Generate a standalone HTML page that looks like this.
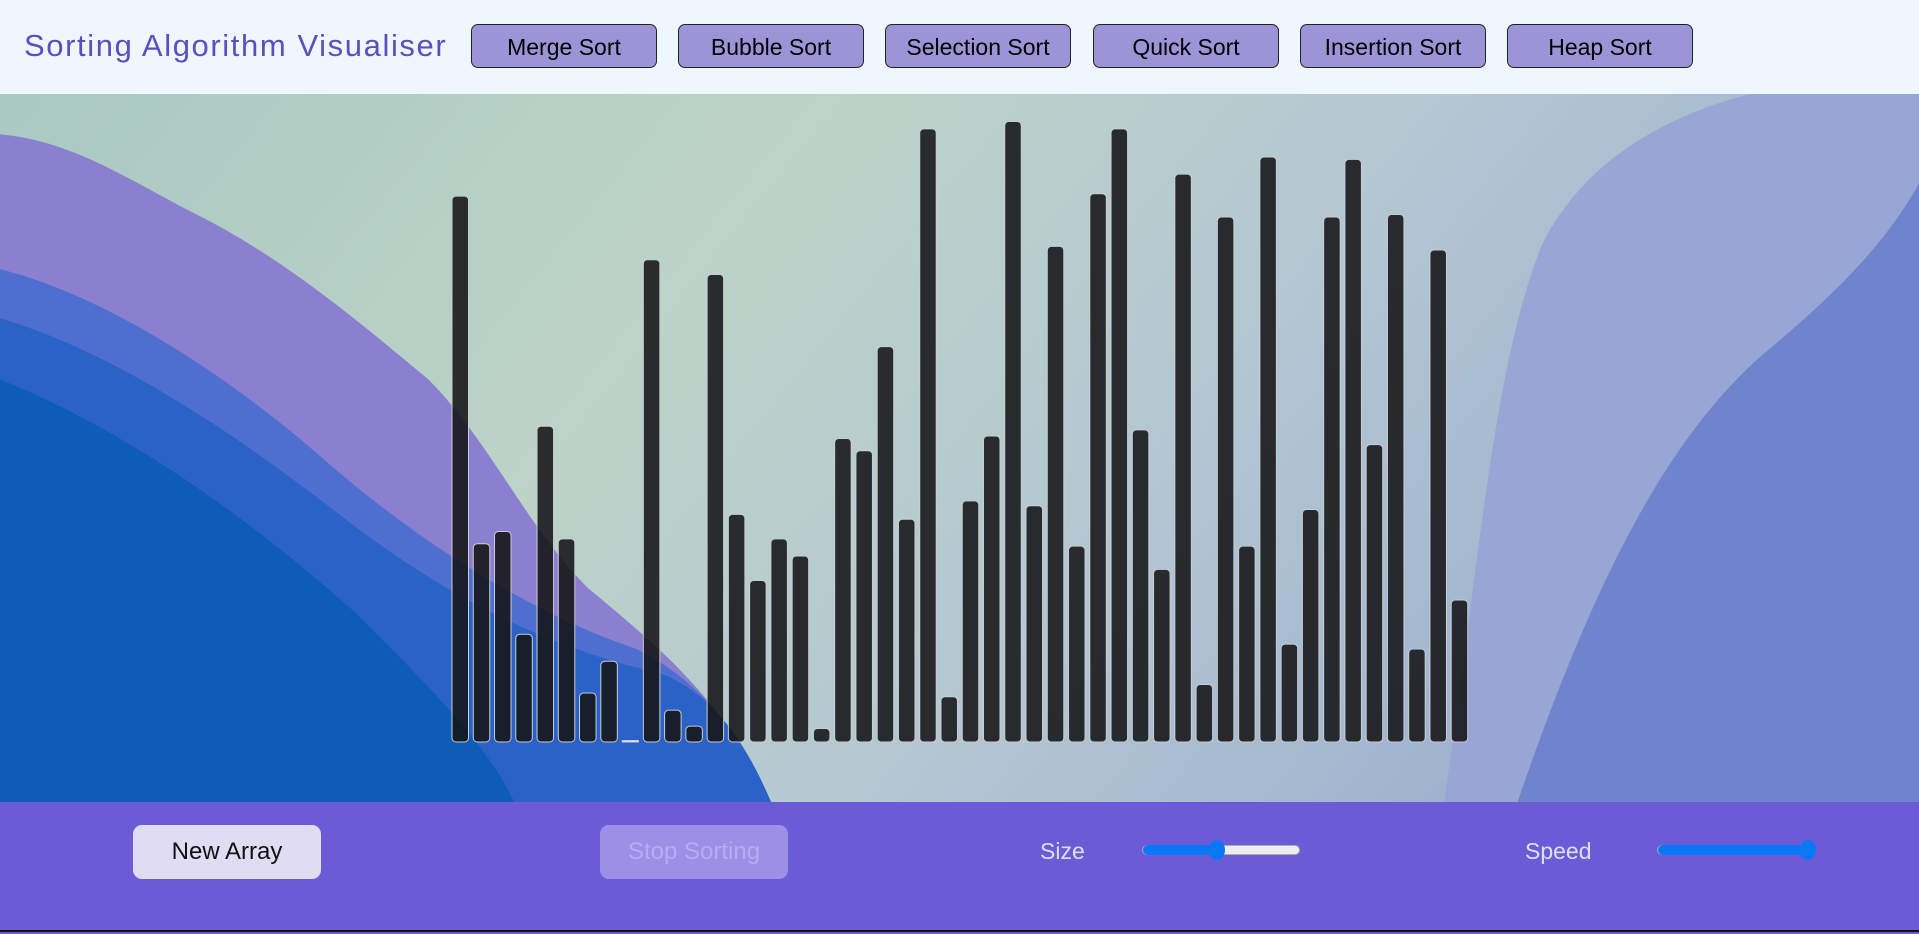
<!DOCTYPE html>
<html><head><meta charset="utf-8"><style>
*{margin:0;padding:0;box-sizing:border-box}
body{width:1919px;height:934px;overflow:hidden;font-family:"Liberation Sans","DejaVu Sans",sans-serif;background:#6b5bd6;position:relative}
#hdr{position:absolute;left:0;top:0;width:1919px;height:94px;background:#eff7fe}
#title{position:absolute;left:24px;top:28px;font-size:31px;color:#5a4fbf;letter-spacing:1.6px}
.algo{position:absolute;top:24px;height:44px;width:186px;background:#9d94d8;border:1.5px solid #222;border-radius:7px;font-size:23px;color:#000;display:flex;align-items:center;justify-content:center;font-family:"Liberation Sans",sans-serif;padding-top:2px}
#stage{position:absolute;left:0;top:94px;width:1919px;height:708px;overflow:hidden}
#bars{position:absolute;left:0;top:0}
#panel{position:absolute;left:0;top:802px;width:1919px;height:130px;background:#6b5bd6;border-bottom:2px solid #111}
.btn{position:absolute;top:23px;height:54px;width:188px;border-radius:9px;font-size:24px;display:flex;align-items:center;justify-content:center}
.lbl{position:absolute;top:36px;font-size:23px;color:#dde0f4}
.track{position:absolute;top:43px;height:10px;border-radius:5px;background:#eee;border:1px solid #aaa}
.fill{position:absolute;left:0;top:-1px;height:10px;border-radius:5px;background:#0a78f5}
.thumb{position:absolute;top:-6px;width:16px;height:20px;border-radius:50%;background:#0a78f5}
</style></head><body>
<div id="hdr">
<div id="title">Sorting Algorithm Visualiser</div>
<div class="algo" style="left:471px">Merge Sort</div>
<div class="algo" style="left:678px">Bubble Sort</div>
<div class="algo" style="left:885px">Selection Sort</div>
<div class="algo" style="left:1093px">Quick Sort</div>
<div class="algo" style="left:1300px">Insertion Sort</div>
<div class="algo" style="left:1507px">Heap Sort</div>
</div>
<div id="stage">
<svg width="1919" height="708" viewBox="0 77 1568 578" preserveAspectRatio="none" style="position:absolute;left:0;top:0">
<defs>
<linearGradient id="g0" x1="0" y1="0" x2="1" y2="0.3"><stop offset="0" stop-color="#a9c9c2"/><stop offset="0.4" stop-color="#bcd3c7"/><stop offset="0.7" stop-color="#b3c7d2"/><stop offset="1" stop-color="#9cb0cf"/></linearGradient>
</defs>
<rect x="0" y="77" width="1568" height="578" fill="url(#g0)"/>
<path d="M0,110 C60,115 110,150 160,175 C230,210 290,260 350,310 C400,360 430,430 480,480 C540,530 590,570 630,655 L0,655Z" fill="#8b80cf"/>
<path d="M0,220 C80,240 180,300 270,380 C340,440 430,500 520,530 C580,560 610,610 630,655 L0,655Z" fill="#4f6fd0"/>
<path d="M0,260 C100,290 200,360 290,430 C370,490 450,530 540,550 C590,570 615,620 630,655 L0,655Z" fill="#2a62c8"/>
<path d="M0,310 C100,350 200,420 290,500 C350,560 400,610 420,655 L0,655Z" fill="#0d5cb8"/>
<path d="M1180,655 C1210,450 1220,300 1260,200 C1300,120 1380,90 1430,77 L1568,77 L1568,655Z" fill="#98a6d6"/>
<path d="M1240,655 C1300,480 1360,360 1440,290 C1500,240 1540,200 1568,150 L1568,655Z" fill="#6f84cd"/>
</svg>
<svg id="bars" width="1919" height="708"></svg>
</div>
<div id="panel">
<div class="btn" style="left:133px;background:#e0dcf3;color:#111">New Array</div>
<div class="btn" style="left:600px;background:#9d8fe6;color:#b8acef">Stop Sorting</div>
<div class="lbl" style="left:1040px">Size</div>
<div class="track" style="left:1142px;width:158px"><div class="fill" style="width:78px"></div><div class="thumb" style="left:66px"></div></div>
<div class="lbl" style="left:1525px">Speed</div>
<div class="track" style="left:1657px;width:158px"><div class="fill" style="width:158px"></div><div class="thumb" style="left:142px"></div></div>
</div>
<script>
const values=[446,162,172,88,258,166,40,66,1,394,26,13,382,186,132,166,152,11,248,238,323,182,501,37,197,250,507,193,405,160,448,501,255,141,464,47,429,160,478,80,190,429,476,243,431,76,402,116];
const scale=1.2239;
const baseY=648, x0=452, pitch=21.26, bw=16.5;
const svg=document.getElementById('bars');
const NS='http://www.w3.org/2000/svg';
values.forEach((v,i)=>{
  const h=Math.max(v*scale,1.5);
  const r=document.createElementNS(NS,'rect');
  r.setAttribute('x',x0+i*pitch);
  r.setAttribute('y',baseY-h);
  r.setAttribute('width',bw);
  r.setAttribute('height',h);
  r.setAttribute('rx',Math.min(4,h/2));
  r.setAttribute('fill', v<=1?'#e8eef6':'rgba(20,20,22,0.88)');
  r.setAttribute('stroke','#c8ccd4');
  r.setAttribute('stroke-width','1');
  
  
  svg.appendChild(r);
});
</script>
</body></html>
